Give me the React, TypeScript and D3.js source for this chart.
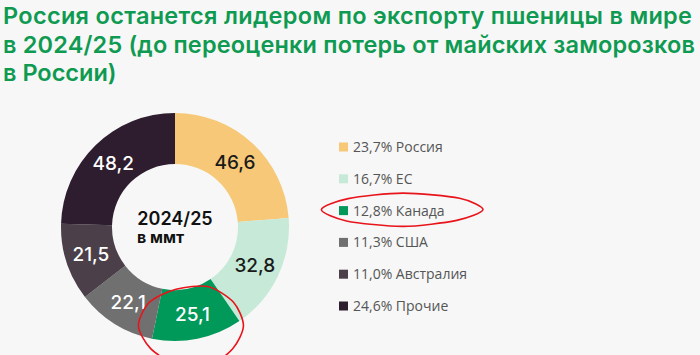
import { useRef, useEffect } from "react";
import * as d3 from "d3";

const countries = ["Россия", "ЕС", "Канада", "США", "Австралия", "Прочие"];
const exports = [46.6, 32.8, 25.1, 22.1, 21.5, 48.2];
const shares = ["23,7%", "16,7%", "12,8%", "11,3%", "11,0%", "24,6%"];
const colors = ["#f6c877", "#c6ead7", "#00995a", "#707070", "#4b4049", "#2d1d2e"];
const labelColors = ["#1a1a1a", "#1a1a1a", "#ffffff", "#ffffff", "#ffffff", "#ffffff"];

const titleLines = [
  "Россия останется лидером по экспорту пшеницы в мире",
  "в 2024/25 (до переоценки потерь от майских заморозков",
  "в России)",
];
const titleWidths = [689, 692, 0];

const WIDTH = 700;
const HEIGHT = 355;

const App = () => {
  const svgRef = useRef<SVGSVGElement>(null);

  useEffect(() => {
    const svg = d3.select(svgRef.current);
    svg.selectAll("*").remove();

    svg.append("rect").attr("width", WIDTH).attr("height", HEIGHT).attr("fill", "#f7f7f7");

    // title
    svg
      .append("g")
      .selectAll("text")
      .data(titleLines)
      .enter()
      .append("text")
      .attr("x", 3)
      .attr("y", (_d, i) => 24 + i * 28.5)
      .attr("font-family", "Inter, 'Noto Sans', sans-serif")
      .attr("font-weight", 600)
      .attr("font-size", "23.5px")
      .attr("fill", "#0f9a52")
      .attr("textLength", (_d, i) => (titleWidths[i] ? titleWidths[i] : null) as any)
      .attr("lengthAdjust", "spacing")
      .text((d) => d);

    // donut
    const cx = 175;
    const cy = 227;
    const outerR = 114;
    const innerR = 63;

    const data = countries.map((c, i) => ({ name: c, value: exports[i], idx: i }));
    const pie = d3.pie<any>().value((d) => d.value).sort(null);
    const arc = d3.arc<any>().innerRadius(innerR).outerRadius(outerR);
    const arcs = pie(data);

    const g = svg.append("g").attr("transform", `translate(${cx},${cy})`);
    g.selectAll("path")
      .data(arcs)
      .enter()
      .append("path")
      .attr("d", arc)
      .attr("fill", (d) => colors[d.data.idx]);

    g.selectAll("text.val")
      .data(arcs)
      .enter()
      .append("text")
      .attr("class", "val")
      .attr("x", (d) => arc.centroid(d)[0])
      .attr("y", (d) => arc.centroid(d)[1])
      .attr("dy", "0.36em")
      .attr("text-anchor", "middle")
      .attr("font-family", "Inter, 'Noto Sans', sans-serif")
      .attr("font-weight", 500)
      .attr("font-size", "19px")
      .attr("fill", (d) => labelColors[d.data.idx])
      .text((d) => String(d.data.value).replace(".", ","));

    g.append("text")
      .attr("y", -2)
      .attr("text-anchor", "middle")
      .attr("font-family", "Inter, 'Noto Sans', sans-serif")
      .attr("font-weight", 600)
      .attr("font-size", "18px")
      .attr("fill", "#111")
      .text("2024/25");
    g.append("text")
      .attr("x", -38)
      .attr("y", 16)
      .attr("font-family", "Inter, 'Noto Sans', sans-serif")
      .attr("font-weight", 700)
      .attr("font-size", "16px")
      .attr("fill", "#111")
      .text("в ммт");

    // legend
    const legendY = d3.scalePoint<number>().domain(d3.range(countries.length)).range([147, 306]);
    const lg = svg.append("g");
    const rows = lg
      .selectAll("g")
      .data(countries)
      .enter()
      .append("g")
      .attr("transform", (_d, i) => `translate(339,${legendY(i)})`);
    rows
      .append("rect")
      .attr("y", -4.5)
      .attr("width", 9)
      .attr("height", 9)
      .attr("fill", (_d, i) => colors[i]);
    rows
      .append("text")
      .attr("x", 14)
      .attr("dy", "0.36em")
      .attr("font-family", "'Open Sans', sans-serif")
      .attr("font-size", "14px")
      .attr("fill", "#555")
      .text((d, i) => `${shares[i]} ${d}`);

    // red hand-drawn highlights
    const loop = d3.line().curve(d3.curveCardinalClosed.tension(0.2));
    const blob = (x: number, y: number, rx: number, ry: number, wob: number[]) =>
      loop(
        wob.map((w, k) => {
          const a = (k / wob.length) * Math.PI * 2;
          return [x + Math.cos(a) * rx * w, y + Math.sin(a) * ry * w] as [number, number];
        })
      );
    const canada = arcs[2];
    const [kx, ky] = arc.centroid(canada);
    svg
      .append("path")
      .attr("d", blob(cx + kx - 1, cy + ky + 12, 52, 40, [1, 0.98, 1.05, 1, 0.97, 1.02, 1.0, 0.96, 1.03, 1]))
      .attr("fill", "none")
      .attr("stroke", "#e8141b")
      .attr("stroke-width", 1.6);
    svg
      .append("path")
      .attr("d", blob(403, legendY(2)! - 1, 80, 16, [1, 0.95, 1.05, 1, 1.02, 0.97, 1.03, 1]))
      .attr("fill", "none")
      .attr("stroke", "#e8141b")
      .attr("stroke-width", 1.6);
  }, []);

  return (
    <svg
      ref={svgRef}
      width={WIDTH}
      height={HEIGHT}
      style={{ position: "absolute", left: 0, top: 0, display: "block" }}
    />
  );
};

export default App;
